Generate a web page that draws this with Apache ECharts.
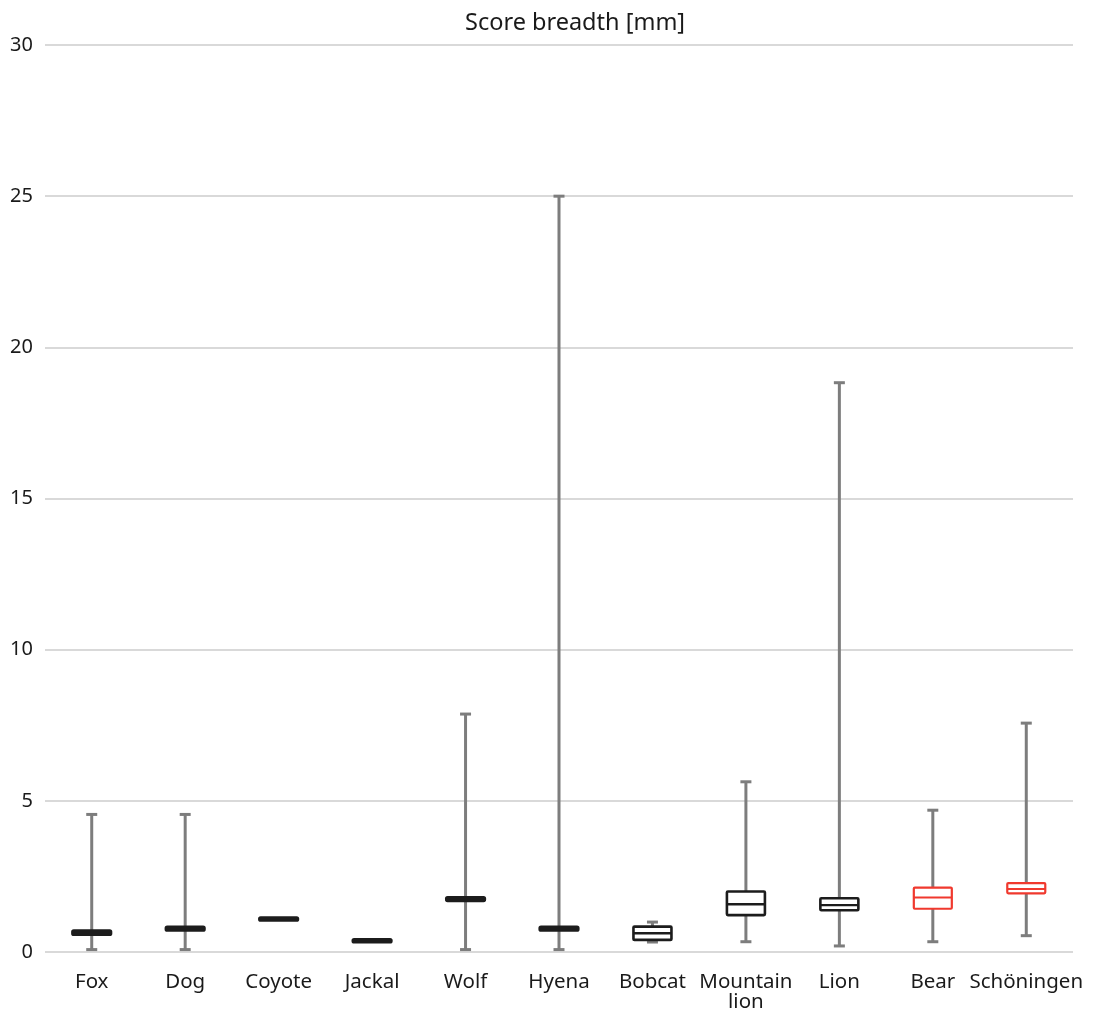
<!DOCTYPE html>
<html>
<head>
<meta charset="utf-8">
<title>Score breadth [mm]</title>
<script src="https://cdn.jsdelivr.net/npm/echarts@6/dist/echarts.min.js"></script>
<style>
  html, body { margin: 0; padding: 0; background: #ffffff; }
  #chart { width: 1096px; height: 1010px; }
</style>
</head>
<body>
<div id="chart"></div>
<script>
// Score breadth (mm) by carnivore group, five-number summaries
const categories = ['Fox', 'Dog', 'Coyote', 'Jackal', 'Wolf', 'Hyena', 'Bobcat', 'Mountain\nlion', 'Lion', 'Bear', 'Schöningen'];
const minValues    = [0.08, 0.08, 1.05, 0.33, 0.08, 0.08, 0.33, 0.34, 0.20, 0.34, 0.54];
const q1Values     = [0.58, 0.72, 1.05, 0.33, 1.70, 0.72, 0.40, 1.22, 1.38, 1.43, 1.94];
const medianValues = [0.64, 0.77, 1.09, 0.37, 1.75, 0.77, 0.62, 1.58, 1.55, 1.80, 2.08];
const q3Values     = [0.70, 0.82, 1.13, 0.41, 1.80, 0.82, 0.84, 2.00, 1.78, 2.13, 2.28];
const maxValues    = [4.55, 4.55, 1.13, 0.41, 7.87, 25.0, 0.99, 5.63, 18.83, 4.69, 7.57];
// groups highlighted in red
const highlighted  = [false, false, false, false, false, false, false, false, false, true, true];
const yTicks = { min: 0, max: 30, interval: 5 };

const seriesData = categories.map((c, i) => [i, minValues[i], q1Values[i], medianValues[i], q3Values[i], maxValues[i], highlighted[i] ? 1 : 0]);

const WHISKER = '#7d7d7d';
const DARK = '#1c1c1c';
const RED = '#f0392e';

function renderBox(params, api) {
  const idx = api.value(0);
  const pMin = api.coord([idx, api.value(1)]);
  const pQ1 = api.coord([idx, api.value(2)]);
  const pMed = api.coord([idx, api.value(3)]);
  const pQ3 = api.coord([idx, api.value(4)]);
  const pMax = api.coord([idx, api.value(5)]);
  const red = api.value(6) === 1;
  const x = pMed[0];
  const halfBox = 19;
  const halfCap = 5.5;
  const children = [];
  const wStyle = { stroke: WHISKER, lineWidth: 3 };

  if (api.value(1) < api.value(2)) {
    children.push({ type: 'line', shape: { x1: x, y1: pMin[1], x2: x, y2: pQ1[1] }, style: wStyle });
    children.push({ type: 'line', shape: { x1: x - halfCap, y1: pMin[1], x2: x + halfCap, y2: pMin[1] }, style: wStyle });
  }
  if (api.value(5) > api.value(4)) {
    children.push({ type: 'line', shape: { x1: x, y1: pQ3[1], x2: x, y2: pMax[1] }, style: wStyle });
    children.push({ type: 'line', shape: { x1: x - halfCap, y1: pMax[1], x2: x + halfCap, y2: pMax[1] }, style: wStyle });
  }

  const boxH = pQ1[1] - pQ3[1];
  const thin = boxH < 6;
  const color = red ? RED : DARK;
  children.push({
    type: 'rect',
    shape: { x: x - halfBox, y: pQ3[1], width: halfBox * 2, height: boxH, r: 1 },
    style: { fill: thin ? color : '#ffffff', stroke: color, lineWidth: thin ? 3.2 : (red ? 2.2 : 2.6), lineJoin: 'round' }
  });
  if (!thin) {
    children.push({
      type: 'line',
      shape: { x1: x - halfBox, y1: pMed[1], x2: x + halfBox, y2: pMed[1] },
      style: { stroke: color, lineWidth: red ? 2 : 2.4 }
    });
  }
  return { type: 'group', children: children };
}

const chart = echarts.init(document.getElementById('chart'), null, { renderer: 'canvas' });
chart.setOption({
  animation: false,
  backgroundColor: '#ffffff',
  textStyle: { fontFamily: 'Noto Sans' },
  title: {
    text: 'Score breadth [mm]',
    left: 460,
    top: 6,
    textStyle: { fontFamily: 'Noto Sans', fontSize: 23.5, fontWeight: 'normal', color: '#1a1a1a' }
  },
  grid: { left: 45, right: 23, top: 45, bottom: 58, containLabel: false, outerBoundsMode: 'none' },
  xAxis: {
    type: 'category',
    data: categories,
    axisLine: { show: false },
    axisTick: { show: false },
    axisLabel: { interval: 0, margin: 20, fontSize: 20.5, lineHeight: 20, color: '#1a1a1a', fontFamily: 'Noto Sans' },
    splitLine: { show: false }
  },
  yAxis: {
    type: 'value',
    min: yTicks.min,
    max: yTicks.max,
    interval: yTicks.interval,
    axisLine: { show: false },
    axisTick: { show: false },
    axisLabel: { margin: 12, fontSize: 20, color: '#1a1a1a', fontFamily: 'Noto Sans' },
    splitLine: { lineStyle: { color: '#d9d9d9', width: 2 } }
  },
  series: [{
    type: 'custom',
    renderItem: renderBox,
    encode: { x: 0, y: [1, 2, 3, 4, 5] },
    data: seriesData
  }]
});
</script>
</body>
</html>
